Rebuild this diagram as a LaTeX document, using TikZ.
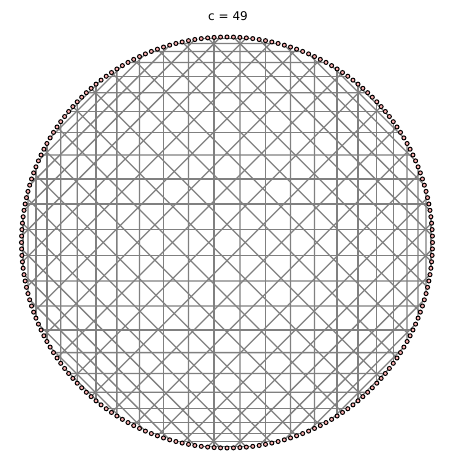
\documentclass[tikz,border=0pt]{standalone}
\usepackage{fontspec}
\setmainfont{DejaVu Sans}
\begin{document}
\begin{tikzpicture}[x=1pt,y=1pt,
  chord/.style={draw=gray,line width=1.3pt},
  dot/.style={circle,draw=black,fill=red!30,line width=1pt,minimum size=4pt,inner sep=0pt},
  titletext/.style={font=\fontsize{12}{14}\selectfont}]
\useasboundingbox (0,0) rectangle (454,470);
\def\cx{227}\def\cy{227.5}\def\R{205.5}
\foreach \i in {0,...,199}{
  \coordinate (p\i) at ({\cx+\R*cos(1.8*\i)},{\cy+\R*sin(1.8*\i)});
}
\foreach \i [evaluate=\i as \j using {int(mod(49*\i,200))}] in {0,...,199}{
  \ifnum\i<\j\relax
    \draw[chord] (p\i) -- (p\j);
  \fi
}
\foreach \i in {0,...,199}{
  \node[dot] (d\i) at (p\i) {};
}
\node[titletext] (title) at (228,454) {c = 49};
\end{tikzpicture}
\end{document}
